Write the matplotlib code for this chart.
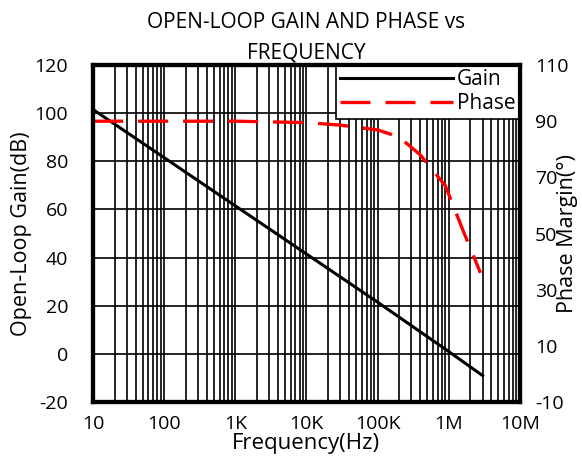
import numpy as np
from matplotlib import pyplot as plt

# values
gain_freq = [10, 100, 1e3, 1e4, 1e5, 1e6, 3e6]
gain_db = [101.5, 81.5, 61.5, 41.5, 21.5, 1.0, -9.0]

phase_freq = [10, 1e3, 1e4, 3e4, 1e5, 2e5, 4e5, 9e5, 1.6e6, 2.8e6]
phase_deg = [90, 90, 89.5, 88.6, 86.9, 84.4, 78, 67, 51, 36]

x_ticks = [10, 100, 1e3, 1e4, 1e5, 1e6, 1e7]
x_labels = ["10", "100", "1K", "10K", "100K", "1M", "10M"]
gain_ticks = list(range(-20, 121, 20))
phase_ticks = list(range(-10, 111, 20))

plt.rcParams["font.family"] = ["Open Sans", "DejaVu Sans"]
plt.rcParams["font.size"] = 14
plt.rcParams["axes.unicode_minus"] = False

fig = plt.figure(figsize=(5.82, 4.68), dpi=100)
ax = fig.add_axes([0.160, 0.141, 0.733, 0.720])
ax2 = ax.twinx()

ax.set_xscale("log")
ax.set_xlim(10, 1e7)
ax.set_ylim(-20, 120)
ax.set_xticks(x_ticks)
ax.set_xticklabels(x_labels)
ax.set_yticks(gain_ticks)
ax.grid(which="both", axis="x", color="black", lw=1.2)
ax.grid(which="major", axis="y", color="black", lw=1.2)
ax.tick_params(which="both", length=0)
ax.tick_params(axis="x", pad=9)
ax.tick_params(axis="y", pad=18)

ax2.set_ylim(-10, 110)
ax2.set_yticks(phase_ticks)
ax2.tick_params(which="both", length=0, pad=11)

for a in (ax, ax2):
    for s in a.spines.values():
        s.set_linewidth(3)

# Plot gain and phase
g, = ax.plot(gain_freq, gain_db, color="black", lw=2.2, label="Gain")
p, = ax2.plot(phase_freq, phase_deg, color="#ff0000", lw=2.4,
              dashes=(9, 4.5), label="Phase")

leg = ax.legend([g, p], ["Gain", "Phase"], loc="upper right",
                borderaxespad=0, fancybox=False, framealpha=1,
                handlelength=5.4, borderpad=0.2, labelspacing=0.15,
                handletextpad=0.2, fontsize=15)
leg.get_frame().set_edgecolor("black")
leg.get_frame().set_linewidth(1.2)
leg.set_zorder(5)

ax.set_xlabel("Frequency(Hz)", fontsize=16, labelpad=0)
ax.set_ylabel("Open-Loop Gain(dB)", fontsize=15.5, labelpad=2)
ax2.set_ylabel("Phase Margin(°)", fontsize=15.5)
ax2.yaxis.set_label_coords(1.088, 0.5)
ax.set_title("OPEN-LOOP GAIN AND PHASE vs\nFREQUENCY", fontsize=15,
             linespacing=1.6, pad=5)

plt.savefig("out.png", dpi=100)
